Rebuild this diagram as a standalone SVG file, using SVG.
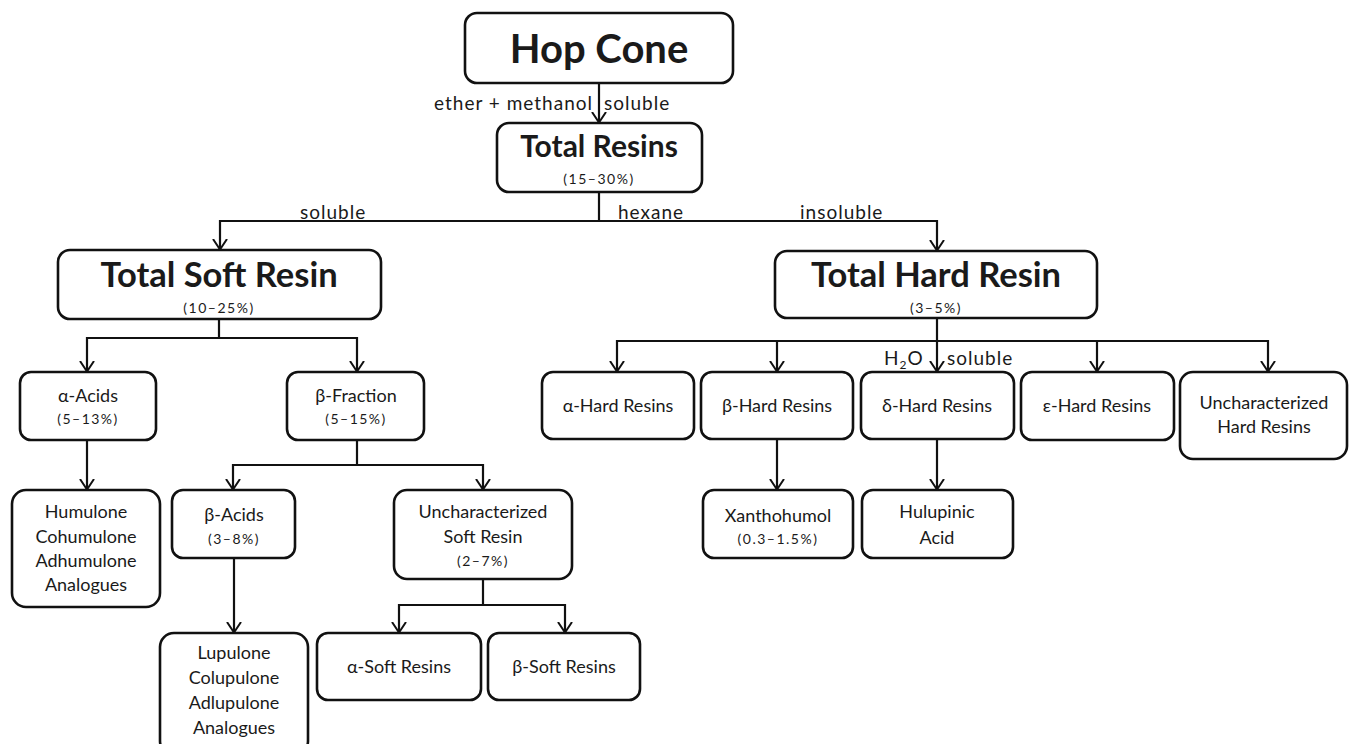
<svg xmlns="http://www.w3.org/2000/svg" width="1349" height="744" viewBox="0 0 1349 744">
<defs>
<marker id="arr" viewBox="0 0 12 16" refX="11.5" refY="8" markerWidth="12" markerHeight="16" orient="auto" markerUnits="userSpaceOnUse">
<path d="M0.5,1 L11,8 L0.5,15" fill="none" stroke="#111" stroke-width="2"/>
</marker>
<style>
.box{fill:#fff;stroke:#111;stroke-width:2.6}
.ln{fill:none;stroke:#111;stroke-width:2.2}
.t{font-family:Lato,"Open Sans","Liberation Sans",sans-serif;fill:#1a1a1a;text-anchor:middle}
.big{font-weight:bold;font-size:40px}
.h2{font-weight:bold;font-size:34.5px}
.h3{font-weight:bold;font-size:30px}
.n{font-size:18px}
.p{font-size:14px;letter-spacing:1.5px}
.lab{font-family:Lato,"Open Sans","Liberation Sans",sans-serif;fill:#1a1a1a;font-size:19px;letter-spacing:1px}
</style>
</defs>
<rect width="1349" height="744" fill="#fff"/>

<g id="connectors">
<path class="ln" d="M599,83 V123" marker-end="url(#arr)"/>
<path class="ln" d="M599,192 V221 H220 V250" marker-end="url(#arr)"/>
<path class="ln" d="M599,221 H937 V251" marker-end="url(#arr)"/>
<path class="ln" d="M219,319 V338 H87 V372" marker-end="url(#arr)"/>
<path class="ln" d="M219,338 H357 V372" marker-end="url(#arr)"/>
<path class="ln" d="M937,318 V372" marker-end="url(#arr)"/>
<path class="ln" d="M937,341 H617 V372" marker-end="url(#arr)"/>
<path class="ln" d="M777,341 V372" marker-end="url(#arr)"/>
<path class="ln" d="M937,341 H1268 V372" marker-end="url(#arr)"/>
<path class="ln" d="M1097,341 V372" marker-end="url(#arr)"/>
<path class="ln" d="M87,440 V490" marker-end="url(#arr)"/>
<path class="ln" d="M357,440 V465 H233 V490" marker-end="url(#arr)"/>
<path class="ln" d="M357,465 H483 V490" marker-end="url(#arr)"/>
<path class="ln" d="M234,558 V633" marker-end="url(#arr)"/>
<path class="ln" d="M483,579 V605 H399 V633" marker-end="url(#arr)"/>
<path class="ln" d="M483,605 H565 V633" marker-end="url(#arr)"/>
<path class="ln" d="M777,439 V490" marker-end="url(#arr)"/>
<path class="ln" d="M937,439 V490" marker-end="url(#arr)"/>
<text class="lab" x="593" y="110" text-anchor="end">ether + methanol</text>
<text class="lab" x="604" y="110">soluble</text>
<text class="lab" x="300" y="219">soluble</text>
<text class="lab" x="618" y="219">hexane</text>
<text class="lab" x="800" y="219">insoluble</text>
<text class="lab" x="884" y="365">H<tspan font-size="12" dy="4">2</tspan><tspan dy="-4">O</tspan></text>
<text class="lab" x="947" y="365">soluble</text>
</g>

<g id="hop-cone">
<rect class="box" x="465" y="13" width="268" height="70" rx="12"/>
<text class="t big" x="599" y="63">Hop Cone</text>
</g>
<g id="total-resins">
<rect class="box" x="497" y="123" width="205" height="69" rx="12"/>
<text class="t h3" x="599" y="157">Total Resins</text>
<text class="t p" x="599" y="184">(15–30%)</text>
</g>
<g id="total-soft-resin">
<rect class="box" x="58" y="250" width="323" height="69" rx="12"/>
<text class="t h2" x="219" y="287">Total Soft Resin</text>
<text class="t p" x="219" y="313">(10–25%)</text>
</g>
<g id="total-hard-resin">
<rect class="box" x="775" y="251" width="322" height="67" rx="12"/>
<text class="t h2" x="936" y="287">Total Hard Resin</text>
<text class="t p" x="936" y="313">(3–5%)</text>
</g>
<g id="alpha-acids">
<rect class="box" x="20" y="372" width="136" height="68" rx="11"/>
<text class="t n" x="88" y="402">α-Acids</text>
<text class="t p" x="88" y="424">(5–13%)</text>
</g>
<g id="beta-fraction">
<rect class="box" x="287" y="372" width="137" height="68" rx="11"/>
<text class="t n" x="356" y="402">β-Fraction</text>
<text class="t p" x="356" y="424">(5–15%)</text>
</g>
<g id="humulone">
<rect class="box" x="12" y="490" width="148" height="117" rx="14"/>
<text class="t n" x="86" y="518">Humulone</text>
<text class="t n" x="86" y="543">Cohumulone</text>
<text class="t n" x="86" y="567">Adhumulone</text>
<text class="t n" x="86" y="591">Analogues</text>
</g>
<g id="beta-acids">
<rect class="box" x="172" y="490" width="123" height="68" rx="11"/>
<text class="t n" x="234" y="521">β-Acids</text>
<text class="t p" x="234" y="544">(3–8%)</text>
</g>
<g id="uncharacterized-soft-resin">
<rect class="box" x="394" y="490" width="178" height="89" rx="13"/>
<text class="t n" x="483" y="518">Uncharacterized</text>
<text class="t n" x="483" y="543">Soft Resin</text>
<text class="t p" x="483" y="566">(2–7%)</text>
</g>
<g id="lupulone">
<rect class="box" x="160" y="633" width="148" height="122" rx="14"/>
<text class="t n" x="234" y="659">Lupulone</text>
<text class="t n" x="234" y="684">Colupulone</text>
<text class="t n" x="234" y="709">Adlupulone</text>
<text class="t n" x="234" y="734">Analogues</text>
</g>
<g id="alpha-soft-resins">
<rect class="box" x="317" y="633" width="164" height="67" rx="11"/>
<text class="t n" x="399" y="673">α-Soft Resins</text>
</g>
<g id="beta-soft-resins">
<rect class="box" x="488" y="633" width="152" height="67" rx="11"/>
<text class="t n" x="564" y="673">β-Soft Resins</text>
</g>
<g id="alpha-hard-resins">
<rect class="box" x="542" y="372" width="152" height="67" rx="11"/>
<text class="t n" x="618" y="412">α-Hard Resins</text>
</g>
<g id="beta-hard-resins">
<rect class="box" x="701" y="372" width="152" height="67" rx="11"/>
<text class="t n" x="777" y="412">β-Hard Resins</text>
</g>
<g id="delta-hard-resins">
<rect class="box" x="861" y="372" width="153" height="67" rx="11"/>
<text class="t n" x="937" y="412">δ-Hard Resins</text>
</g>
<g id="epsilon-hard-resins">
<rect class="box" x="1021" y="372" width="153" height="68" rx="11"/>
<text class="t n" x="1097" y="412">ε-Hard Resins</text>
</g>
<g id="uncharacterized-hard-resins">
<rect class="box" x="1180" y="372" width="167" height="87" rx="13"/>
<text class="t n" x="1264" y="409">Uncharacterized</text>
<text class="t n" x="1264" y="433">Hard Resins</text>
</g>
<g id="xanthohumol">
<rect class="box" x="703" y="490" width="150" height="68" rx="11"/>
<text class="t n" x="778" y="522">Xanthohumol</text>
<text class="t p" x="778" y="544">(0.3–1.5%)</text>
</g>
<g id="hulupinic-acid">
<rect class="box" x="862" y="490" width="151" height="68" rx="11"/>
<text class="t n" x="937" y="518">Hulupinic</text>
<text class="t n" x="937" y="544">Acid</text>
</g>
</svg>
